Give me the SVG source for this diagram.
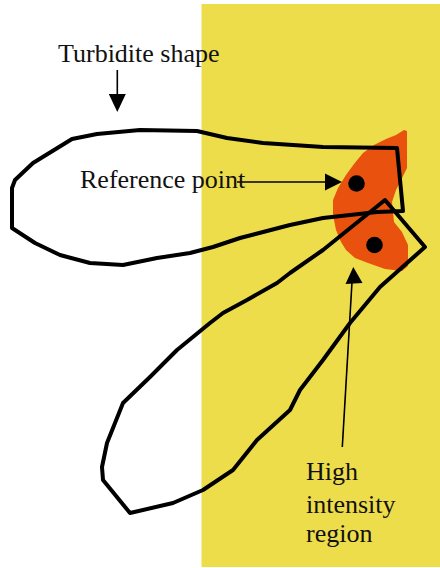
<svg xmlns="http://www.w3.org/2000/svg" width="440" height="568" viewBox="0 0 440 568">
<style>
.lbl{font-family:"Liberation Serif","Times New Roman",serif;font-size:26px;fill:#111;}
.outline{fill:none;stroke:#000;stroke-width:4;stroke-linejoin:round;}
.arrow{stroke:#000;stroke-width:1.6;fill:none;}
.head{fill:#000;}
</style>
<rect width="440" height="568" fill="#fff"/>
<rect id="field" x="201.5" y="4" width="238.5" height="563" fill="#EEDD4B"/>
<g id="high-intensity-blob">
<polygon fill="#E8520E" points="396,135 404,130 407,131 407,168 402,178 396,190 392,202 394,222 402,232 408,245 408,266 402,271 385,269 368,263 355,258 346,250 341,242 336,230 333,215 333,200 338,188 346,175 354,164 363,153 374,145 386,139"/>
<circle cx="356.5" cy="183.5" r="8.3" fill="#000"/>
<circle cx="374.5" cy="245" r="8.3" fill="#000"/>
</g>
<g id="turbidite-horizontal">
<polygon class="outline" points="72,139 97,134 140,130 197,131 227,138 263,143 323,147 397,148 403,211 377,212 323,218 290,225 240,238 213,247 190,253 157,258 123,265 90,263 60,255 35,243 12,228 12,188 15,180 33,163"/>
</g>
<g id="turbidite-diagonal">
<polygon class="outline" points="385,200 425,247 380,287 350,323 323,360 300,390 290,410 257,440 233,470 203,490 173,503 130,513 103,480 102,467 107,443 115,423 123,403 150,377 177,350 210,323 223,313 247,300 277,283 290,273 323,250"/>
</g>
<g id="connectors">
<line class="arrow" x1="117.3" y1="70" x2="117.3" y2="96"/>
<polygon class="head" points="117.3,112 108.8,94 125.8,94"/>
<line class="arrow" x1="237" y1="182" x2="327" y2="182"/>
<polygon class="head" points="342,182 325,173.5 325,190.5"/>
<line class="arrow" x1="342.3" y1="447" x2="352" y2="282"/>
<polygon class="head" points="353.3,267 345.5,284 362.5,283"/>
</g>
<g id="labels">
<text class="lbl" x="58" y="62">Turbidite shape</text>
<text class="lbl" x="80" y="188">Reference point</text>
<text class="lbl" x="306" y="480">High</text>
<text class="lbl" x="306" y="512.5">intensity</text>
<text class="lbl" x="306" y="541.5">region</text>
</g>
</svg>
